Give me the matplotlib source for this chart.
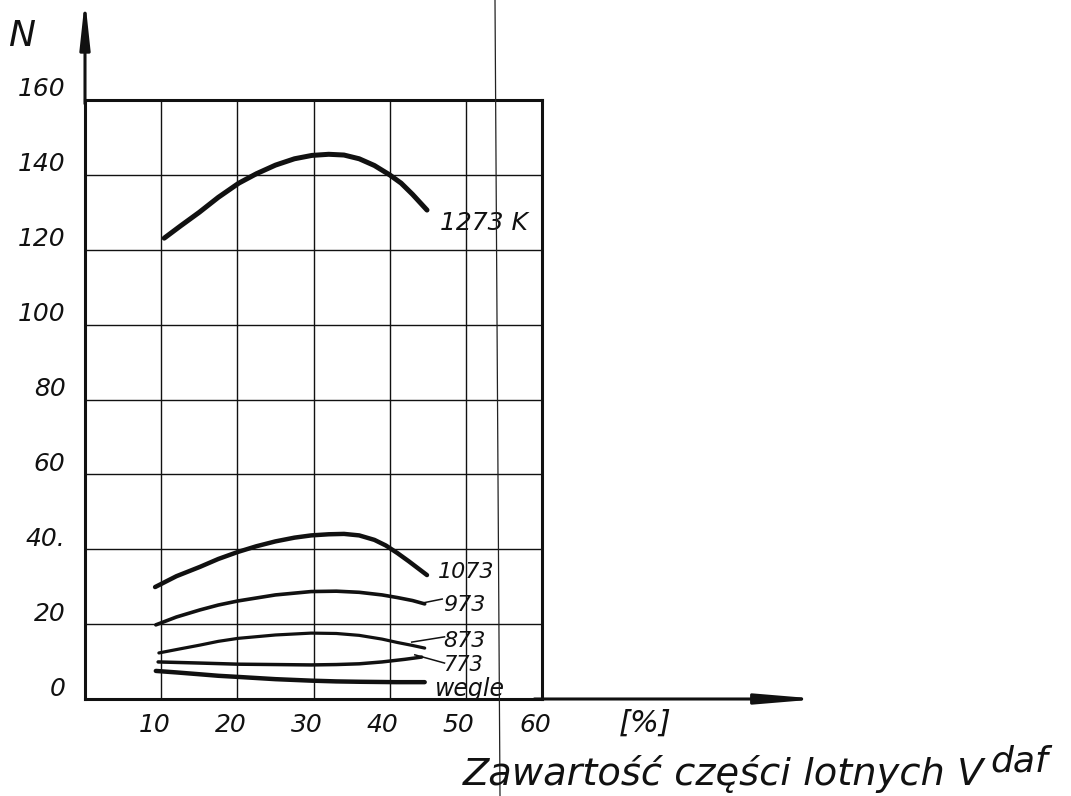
import matplotlib
matplotlib.use("Agg")
from matplotlib import pyplot as plt
from matplotlib.lines import Line2D
from matplotlib.transforms import ScaledTranslation

# volatile matter content V^daf [%] and N for each temperature
x_1273 = [10.4, 12.5, 15.0, 17.5, 20.2, 22.5, 25.0, 27.5, 29.8, 32.0, 34.0, 36.0, 38.0, 40.0, 41.5, 43.0, 44.9]
n_1273 = [123.1, 126.3, 130.0, 134.0, 137.8, 140.3, 142.6, 144.3, 145.2, 145.5, 145.3, 144.3, 142.5, 140.0, 137.8, 134.8, 130.6]

x_1073 = [9.2, 12.0, 15.1, 17.5, 20.1, 22.5, 25.0, 27.5, 29.7, 32.0, 34.0, 36.0, 38.0, 39.5, 41.0, 42.5, 44.9]
n_1073 = [29.9, 32.8, 35.3, 37.4, 39.3, 40.8, 42.1, 43.1, 43.7, 44.0, 44.1, 43.7, 42.5, 41.0, 39.0, 36.8, 33.1]

x_973 = [9.3, 12.0, 15.1, 17.5, 20.1, 25.0, 29.7, 33.0, 36.0, 39.0, 41.0, 43.0, 44.6]
n_973 = [19.8, 21.9, 23.8, 25.1, 26.2, 27.8, 28.7, 28.8, 28.5, 27.8, 27.1, 26.3, 25.4]

x_873 = [9.7, 12.5, 15.1, 17.5, 20.1, 25.0, 29.7, 33.0, 36.0, 39.0, 41.0, 43.0, 44.6]
n_873 = [12.3, 13.4, 14.4, 15.4, 16.2, 17.1, 17.6, 17.5, 17.0, 16.0, 15.1, 14.3, 13.6]

x_773 = [9.6, 15.1, 20.1, 25.0, 29.7, 33.0, 36.0, 39.0, 42.0, 44.2]
n_773 = [9.9, 9.6, 9.3, 9.2, 9.1, 9.2, 9.4, 9.9, 10.6, 11.2]

x_wegle = [9.3, 12.0, 15.1, 17.5, 20.1, 25.0, 29.7, 33.0, 36.1, 40.9, 44.6]
n_wegle = [7.5, 7.1, 6.6, 6.2, 5.9, 5.3, 4.9, 4.7, 4.6, 4.5, 4.5]

x_ticks = [10, 20, 30, 40, 50, 60]
y_ticks = [0, 20, 40, 60, 80, 100, 120, 140, 160]
y_tick_labels = ['0', '20', '40.', '60', '80', '100', '120', '140', '160']

ink = '#111111'

fig = plt.figure(figsize=(10.71, 7.96), dpi=100)
ax = fig.add_axes([85 / 1071, 97 / 796, 457 / 1071, 599 / 796])
ax.set_xlim(0, 60)
ax.set_ylim(0, 160)

for side in ['left', 'right', 'top', 'bottom']:
    ax.spines[side].set_linewidth(2.2)
    ax.spines[side].set_color(ink)

ax.set_xticks(x_ticks)
ax.set_xticklabels([str(v) for v in x_ticks], fontsize=18, fontstyle='italic', color=ink)
ax.set_yticks(y_ticks)
ax.set_yticklabels(y_tick_labels, fontsize=18, fontstyle='italic', color=ink)
ax.tick_params(axis='x', length=0, pad=10)
ax.tick_params(axis='y', length=0, pad=14)
ax.grid(True, color=ink, linewidth=1.0)

# hand lettering sits left of / above the grid lines
for lbl in ax.get_xticklabels():
    lbl.set_transform(lbl.get_transform() + ScaledTranslation(-0.07, 0, fig.dpi_scale_trans))
for lbl in ax.get_yticklabels():
    lbl.set_transform(lbl.get_transform() + ScaledTranslation(0, 0.13, fig.dpi_scale_trans))

# axis arrows
ax.annotate('', xy=(0, 187), xytext=(0, 159), annotation_clip=False,
            arrowprops=dict(arrowstyle='-|>,head_length=2.8,head_width=0.3', color=ink,
                            lw=2.2, shrinkA=0, shrinkB=0, mutation_scale=10))
ax.annotate('', xy=(96.5, 0), xytext=(59, 0), annotation_clip=False,
            arrowprops=dict(arrowstyle='-|>,head_length=3.6,head_width=0.3', color=ink,
                            lw=2.2, shrinkA=0, shrinkB=0, mutation_scale=10))

# curves
curve_style = dict(color=ink, solid_capstyle='round', solid_joinstyle='round')
ax.plot(x_1273, n_1273, lw=3.6, **curve_style)
ax.plot(x_1073, n_1073, lw=3.2, **curve_style)
ax.plot(x_973, n_973, lw=2.6, **curve_style)
ax.plot(x_873, n_873, lw=2.3, **curve_style)
ax.plot(x_773, n_773, lw=2.5, **curve_style)
ax.plot(x_wegle, n_wegle, lw=3.2, **curve_style)

# leader lines to the temperature labels
ax.plot([44.2, 46.9], [25.6, 26.7], color=ink, lw=1.1)
ax.plot([42.9, 47.2], [15.2, 16.6], color=ink, lw=1.1)
ax.plot([43.3, 47.2], [11.8, 9.6], color=ink, lw=1.1)

ax.text(46.6, 127.1, '1273 K', fontsize=18, fontstyle='italic', color=ink, va='center')
ax.text(46.3, 33.9, '1073', fontsize=16, fontstyle='italic', color=ink, va='center')
ax.text(47.0, 25.1, '973', fontsize=16, fontstyle='italic', color=ink, va='center')
ax.text(47.0, 15.4, '873', fontsize=16, fontstyle='italic', color=ink, va='center')
ax.text(47.0, 9.0, '773', fontsize=15, fontstyle='italic', color=ink, va='center')
ax.text(46.0, 2.6, 'wegle', fontsize=17, fontstyle='italic', color=ink, va='center')

ax.text(73.5, -6.4, '[%]', fontsize=22, fontstyle='italic', color=ink,
        ha='center', va='center', clip_on=False)

fig.text(22 / 1071, 1 - 36 / 796, 'N', fontsize=26, fontstyle='italic', color=ink,
         ha='center', va='center')
fig.text(463 / 1071, 11 / 796, 'Zawartość części lotnych V', fontsize=27.6,
         fontstyle='italic', color=ink, va='baseline')
fig.text(990 / 1071, 24 / 796, 'daf', fontsize=26, fontstyle='italic', color=ink,
         va='baseline')

# fold line running down the sheet
fig.add_artist(Line2D([495 / 1071, 500 / 1071], [1, 0], transform=fig.transFigure,
                      lw=0.9, color='#222222'))

fig.savefig('out.png', dpi=100, facecolor='white')
